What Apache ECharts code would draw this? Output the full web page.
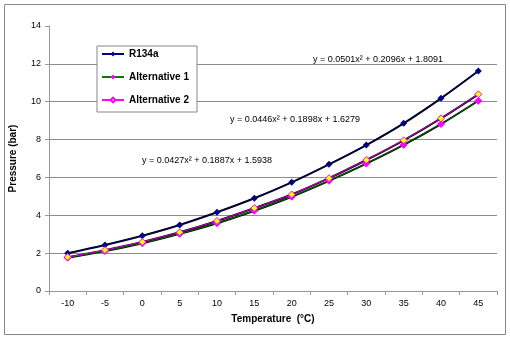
<!DOCTYPE html>
<html><head><meta charset="utf-8">
<script src="https://cdn.jsdelivr.net/npm/echarts@6/dist/echarts.min.js"></script>
<style>html,body{margin:0;padding:0;background:#fff}#c{width:510px;height:338px}</style>
</head><body><div id="c"></div>
<script>
const categories = ['-10','-5','0','5','10','15','20','25','30','35','40','45'];
const r134a = [1.99, 2.43, 2.92, 3.49, 4.16, 4.90, 5.74, 6.69, 7.71, 8.86, 10.18, 11.62];
const alt1  = [1.76, 2.11, 2.52, 3.02, 3.58, 4.24, 4.98, 5.82, 6.73, 7.72, 8.82, 10.05];
const alt2  = [1.79, 2.16, 2.59, 3.10, 3.70, 4.38, 5.10, 5.96, 6.92, 7.96, 9.12, 10.39];
const equations = ['y = 0.0501x\u00b2 + 0.2096x + 1.8091','y = 0.0446x\u00b2 + 0.1898x + 1.6279','y = 0.0427x\u00b2 + 0.1887x + 1.5938'];
const yTicks = [0,2,4,6,8,10,12,14];

const font = 'Liberation Sans, Arial, sans-serif';
const chart = echarts.init(document.getElementById('c'));
function trend(d){return {type:'line',data:d,smooth:0.35,symbol:'none',lineStyle:{color:'#000',width:2},z:2,silent:true};}
chart.setOption({
  animation:false,
  textStyle:{fontFamily:font},
  grid:{left:49,right:13,top:26,bottom:47},
  graphic:[
    {type:'rect',shape:{x:4.5,y:4.5,width:501,height:330},style:{fill:'none',stroke:'#888',lineWidth:1},z:-10},
    {type:'text',x:378,y:60,style:{text:equations[0],font:'9px '+font,fill:'#000',align:'center',verticalAlign:'middle'}},
    {type:'text',x:295,y:120,style:{text:equations[1],font:'9px '+font,fill:'#000',align:'center',verticalAlign:'middle'}},
    {type:'text',x:207,y:161,style:{text:equations[2],font:'9px '+font,fill:'#000',align:'center',verticalAlign:'middle'}}
  ],
  legend:{
    data:['R134a','Alternative 1','Alternative 2'],
    orient:'vertical',left:97,top:46,width:97,
    padding:[3,8,7,4],itemGap:13,itemWidth:22,itemHeight:6,
    lineStyle:{width:2},
    borderColor:'#888',borderWidth:1,backgroundColor:'#fff',
    textStyle:{fontFamily:font,fontSize:10,fontWeight:'bold',color:'#000'}
  },
  xAxis:{
    type:'category',data:categories,boundaryGap:true,
    name:'Temperature  (\u00b0C)',nameLocation:'middle',nameGap:23,
    nameTextStyle:{fontFamily:font,fontSize:10,fontWeight:'bold',color:'#000'},
    axisLine:{lineStyle:{color:'#999'}},
    axisTick:{show:true,length:4,lineStyle:{color:'#999'}},
    axisLabel:{fontSize:9,color:'#000',margin:8}
  },
  yAxis:{
    type:'value',min:0,max:14,interval:2,
    name:'Pressure (bar)',nameLocation:'middle',nameGap:31,
    nameTextStyle:{fontFamily:font,fontSize:10,fontWeight:'bold',color:'#000'},
    axisLine:{show:true,lineStyle:{color:'#999'}},
    axisTick:{show:true,length:4,lineStyle:{color:'#999'}},
    axisLabel:{fontSize:9,color:'#000',margin:8},
    splitLine:{show:true,lineStyle:{color:yTicks.map((v,i)=>i===yTicks.length-1?'rgba(0,0,0,0)':'#8c8c8c'),width:1}}
  },
  series:[
    trend(r134a),trend(alt1),trend(alt2),
    {name:'R134a',type:'line',data:r134a,symbol:'diamond',symbolSize:7,lineStyle:{color:'#000080',width:0.8},itemStyle:{color:'#000080'},z:3},
    {name:'Alternative 1',type:'line',data:alt1,symbol:'diamond',symbolSize:7,lineStyle:{color:'#008000',width:0.8},itemStyle:{color:'#ff00ff',borderColor:'#ff00ff'},z:3},
    {name:'Alternative 2',type:'line',data:alt2,symbol:'diamond',symbolSize:7,lineStyle:{color:'#ff00ff',width:0.8},itemStyle:{color:'#ffff00',borderColor:'#ff00ff',borderWidth:1},z:3}
  ]
});
</script></body></html>
